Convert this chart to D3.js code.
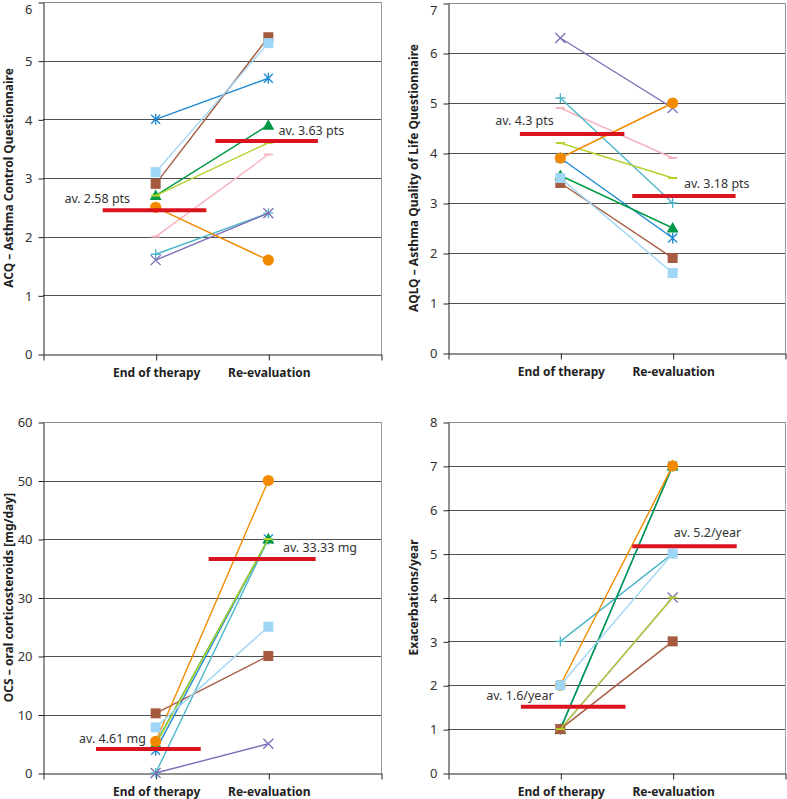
<!DOCTYPE html>
<html>
<head>
<meta charset="utf-8">
<script src="https://cdn.jsdelivr.net/npm/d3@7"></script>
<style>
  body { margin: 0; background: #fff; }
  svg { display: block; font-family: "Noto Sans", sans-serif; }
</style>
</head>
<body>
<svg id="chart" width="787" height="799"></svg>
<script>
// categories on the x axis
const categories = ['End of therapy', 'Re-evaluation']

// one entry per patient line (drawing order)
const seriesKeys = ['pink', 'cyan', 'purple', 'blue', 'green', 'brown', 'yellowgreen', 'orange', 'lightblue']

// ACQ – [end of therapy, re-evaluation]
const acqEnd = [2.0, 1.7, 1.6, 4.0, 2.7, 2.9, 2.7, 2.5, 3.1]
const acqRe  = [3.4, 2.4, 2.4, 4.7, 3.9, 5.4, 3.6, 1.6, 5.3]
const acqAvg = [2.45, 3.63]
const acqAvgText = ['av. 2.58 pts', 'av. 3.63 pts']

// AQLQ
const aqlqEnd = [4.9, 5.1, 6.3, 3.9, 3.55, 3.4, 4.2, 3.9, 3.5]
const aqlqRe  = [3.9, 3.0, 4.9, 2.3, 2.5, 1.9, 3.5, 5.0, 1.6]
const aqlqAvg = [4.38, 3.14]
const aqlqAvgText = ['av. 4.3 pts', 'av. 3.18 pts']

// OCS mg/day (pink patient not shown)
const ocsEnd = [null, 0, 0, 3.9, 5, 10.2, 4.8, 5.4, 7.8]
const ocsRe  = [null, 40, 5, 40, 40, 20, 40, 50, 25]
const ocsAvg = [4.1, 36.6]
const ocsAvgText = ['av. 4.61 mg', 'av. 33.33 mg']

// exacerbations / year (pink patient not shown)
const exaEnd = [null, 3, 1, 1, 1, 1, 1, 2, 2]
const exaRe  = [null, 5, 4, 7, 7, 3, 4, 7, 5]
const exaAvg = [1.51, 5.17]
const exaAvgText = ['av. 1.6/year', 'av. 5.2/year']

const styles = {
  pink:        { color: '#f5b4bf', marker: 'dash' },
  cyan:        { color: '#4cb6c9', marker: 'plus' },
  purple:      { color: '#7c6fb6', marker: 'x' },
  yellowgreen: { color: '#b4d12f', marker: 'dash' },
  green:       { color: '#009a46', marker: 'triangle' },
  orange:      { color: '#f18a00', marker: 'circle' },
  blue:        { color: '#1d8ad2', marker: 'asterisk' },
  brown:       { color: '#a65b40', marker: 'square' },
  lightblue:   { color: '#9fd6f5', marker: 'square' }
}

const panels = [
  { left: 43, right: 381, top: 2, bottom: 354, max: 6, step: 1,
    title: 'ACQ – Asthma Control Questionnaire',
    end: acqEnd, re: acqRe, avg: acqAvg, avgText: acqAvgText,
    avgSpan: [[0.53, 1.45], [1.53, 2.44]], labelPos: [[0.19, 2.64], [2.09, 3.81]] },
  { left: 448, right: 785, top: 3, bottom: 353, max: 7, step: 1,
    title: 'AQLQ – Asthma Quality of Life Questionnaire',
    end: aqlqEnd, re: aqlqRe, avg: aqlqAvg, avgText: aqlqAvgText,
    avgSpan: [[0.64, 1.57], [1.64, 2.56]], labelPos: [[0.42, 4.65], [2.10, 3.39]] },
  { left: 43, right: 381, top: 422, bottom: 773, max: 60, step: 10,
    title: 'OCS – oral corticosteroids [mg/day]',
    end: ocsEnd, re: ocsRe, avg: ocsAvg, avgText: ocsAvgText,
    avgSpan: [[0.47, 1.40], [1.47, 2.42]], labelPos: [[0.32, 5.85], [2.13, 38.5]] },
  { left: 448, right: 785, top: 422, bottom: 773, max: 8, step: 1,
    title: 'Exacerbations/year',
    end: exaEnd, re: exaRe, avg: exaAvg, avgText: exaAvgText,
    avgSpan: [[0.65, 1.58], [1.64, 2.57]], labelPos: [[0.34, 1.77], [2.01, 5.49]] }
]

const svg = d3.select('#chart')

function markerPath(type) {
  switch (type) {
    case 'square': return 'M-5,-5H5V5H-5Z'
    case 'triangle': return 'M0,-6L6,4.5L-6,4.5Z'
    case 'plus': return 'M-5,0H5M0,-5V5'
    case 'x': return 'M-5,-5L5,5M-5,5L5,-5'
    case 'asterisk': return 'M-4.5,-4.5L4.5,4.5M-4.5,4.5L4.5,-4.5M0,-5.5V5.5'
    case 'dash': return 'M-4.5,0H4.5'
  }
}

panels.forEach(p => {
  const x = d3.scaleLinear().domain([0, 3]).range([p.left, p.right])
  const y = d3.scaleLinear().domain([0, p.max]).range([p.bottom, p.top])
  const ticks = d3.range(0, p.max + p.step / 2, p.step)
  const g = svg.append('g')

  // gridlines
  g.append('g').selectAll('line')
    .data(ticks.filter(t => t > 0))
    .enter()
    .append('line')
    .attr('x1', p.left).attr('x2', p.right)
    .attr('y1', d => Math.round(y(d)) + 0.5).attr('y2', d => Math.round(y(d)) + 0.5)
    .attr('stroke', d => d === p.max ? '#8a8a8a' : '#505050')
    .attr('stroke-width', 1)

  // right border
  g.append('line')
    .attr('x1', Math.round(p.right) + 0.5).attr('x2', Math.round(p.right) + 0.5)
    .attr('y1', y(p.max)).attr('y2', y(0))
    .attr('stroke', '#9a9a9a')

  // y axis
  const yAxis = g.append('g')
    .attr('transform', `translate(${Math.round(p.left) + 0.5},0.5)`)
    .call(d3.axisLeft(y).tickValues(ticks).tickFormat(d3.format('d'))
      .tickSize(5).tickPadding(6).tickSizeOuter(0))
  yAxis.selectAll('text').attr('font-size', 13).attr('fill', '#333')
    .attr('font-family', '"Noto Sans", sans-serif')
    .attr('dy', d => (d === p.max && p.top < 10) ? '0.85em' : '0.32em')
  yAxis.selectAll('line,path').attr('stroke', '#222')

  // x axis
  const xAxis = g.append('g')
    .attr('transform', `translate(0.5,${Math.round(p.bottom) + 0.5})`)
    .call(d3.axisBottom(x).tickValues([0, 1, 2, 3]).tickSize(6).tickPadding(8).tickSizeOuter(0)
      .tickFormat(i => categories[i - 1] || ''))
  xAxis.selectAll('text').attr('font-size', 12).attr('font-weight', 'bold').attr('fill', '#222')
    .attr('font-family', '"Noto Sans", sans-serif')
  xAxis.selectAll('line,path').attr('stroke', '#222')

  // y title
  g.append('text')
    .attr('transform', `translate(${p.left - 34},${(p.top + p.bottom) / 2}) rotate(-90)`)
    .attr('text-anchor', 'middle')
    .attr('dy', '0.35em')
    .attr('font-size', 12)
    .attr('font-weight', 'bold')
    .attr('fill', '#222')
    .text(p.title)

  // patient lines
  const data = seriesKeys.map((k, i) => ({ key: k, v: [p.end[i], p.re[i]] }))
    .filter(d => d.v[0] != null)

  const series = g.append('g').selectAll('g')
    .data(data)
    .enter()
    .append('g')

  series.append('line')
    .attr('x1', x(1)).attr('x2', x(2))
    .attr('y1', d => y(d.v[0])).attr('y2', d => y(d.v[1]))
    .attr('stroke', d => styles[d.key].color)
    .attr('stroke-width', 1.4)

  series.selectAll('path')
    .data(d => styles[d.key].marker === 'circle' ? [] : d.v.map((v, j) => ({ key: d.key, v, j })))
    .enter()
    .append('path')
    .attr('transform', d => `translate(${x(d.j + 1)},${y(d.v)})`)
    .attr('d', d => markerPath(styles[d.key].marker))
    .attr('fill', d => ['square', 'triangle'].includes(styles[d.key].marker) ? styles[d.key].color : 'none')
    .attr('stroke', d => ['square', 'triangle'].includes(styles[d.key].marker) ? 'none' : styles[d.key].color)
    .attr('stroke-width', d => styles[d.key].marker === 'dash' ? 2 : 1.3)

  series.selectAll('circle')
    .data(d => styles[d.key].marker === 'circle' ? d.v.map((v, j) => ({ key: d.key, v, j })) : [])
    .enter()
    .append('circle')
    .attr('cx', d => x(d.j + 1)).attr('cy', d => y(d.v))
    .attr('r', 5.6)
    .attr('fill', d => styles[d.key].color)

  // average bars
  g.append('g').selectAll('line')
    .data(p.avg)
    .enter()
    .append('line')
    .attr('x1', (d, i) => x(p.avgSpan[i][0])).attr('x2', (d, i) => x(p.avgSpan[i][1]))
    .attr('y1', d => y(d)).attr('y2', d => y(d))
    .attr('stroke', '#d9141e')
    .attr('stroke-width', 4)

  g.append('g').selectAll('text')
    .data(p.avgText)
    .enter()
    .append('text')
    .attr('x', (d, i) => x(p.labelPos[i][0]))
    .attr('y', (d, i) => y(p.labelPos[i][1]))
    .attr('dy', '0.35em')
    .attr('font-size', 12.5)
    .attr('fill', '#333')
    .text(d => d)
})
</script>
</body>
</html>
